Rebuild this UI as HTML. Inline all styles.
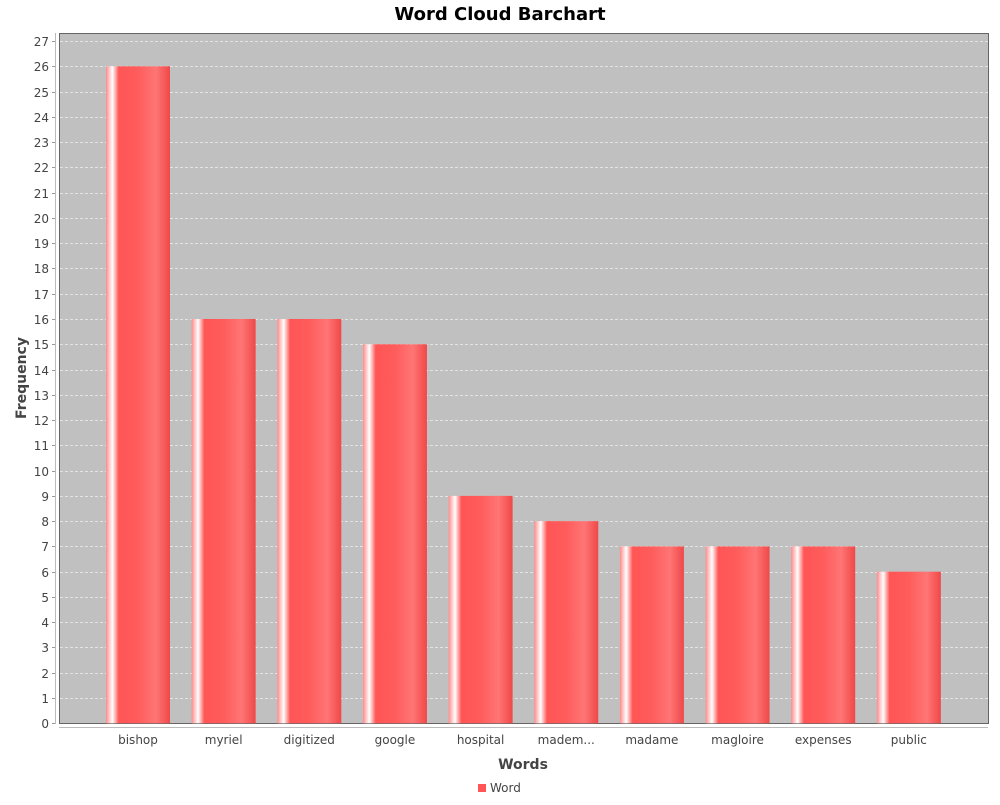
<!DOCTYPE html>
<html><head><meta charset="utf-8"><style>
body{margin:0;background:#fff;}
svg text{font-family:"DejaVu Sans","Liberation Sans",sans-serif;}
</style></head><body>
<svg id="chart" width="1000" height="800" xmlns="http://www.w3.org/2000/svg">
<defs>
<linearGradient id="barGrad" x1="0" y1="0" x2="1" y2="0">
<stop offset="0" stop-color="#ff8a8a"/>
<stop offset="0.1" stop-color="#ffffff"/>
<stop offset="0.2" stop-color="#ff5555"/>
<stop offset="0.5" stop-color="#ff5c5c"/>
<stop offset="0.78" stop-color="#ff7575"/>
<stop offset="1" stop-color="#f04848"/>
</linearGradient>
</defs>
<text x="500" y="20" text-anchor="middle" font-size="18" font-weight="bold" fill="#000">Word Cloud Barchart</text>
<rect x="59.5" y="33.5" width="929" height="690" fill="#c0c0c0" stroke="#666"/>
<g id="grid"></g>
<g id="bars"></g>
<line x1="55.5" y1="33" x2="55.5" y2="724" stroke="#bbb"/>
<line x1="59" y1="727.5" x2="988" y2="727.5" stroke="#bbb"/>
<g id="yticks"></g>
<g id="xlabels"></g>
<text x="26" y="378" text-anchor="middle" font-size="14" font-weight="bold" fill="#444" transform="rotate(-90 26 378)">Frequency</text>
<text x="523" y="769" text-anchor="middle" font-size="14" font-weight="bold" fill="#444">Words</text>
<g>
<rect x="478" y="784" width="8" height="8" fill="#ff5555"/>
<text x="490" y="792" font-size="12" fill="#444">Word</text>
</g>
</svg>
<script>
const categories=["bishop","myriel","digitized","google","hospital","madem...","madame","magloire","expenses","public"];
const values=[26,16,16,15,9,8,7,7,7,6];
const yTicks=[0,1,2,3,4,5,6,7,8,9,10,11,12,13,14,15,16,17,18,19,20,21,22,23,24,25,26,27];
const NS="http://www.w3.org/2000/svg";
const y0=723.3, unit=(723.3-66.3)/26;
function yScale(v){return y0-v*unit;}
const firstCenter=138, step=85.65, barW=64;
function xScale(i){return firstCenter+i*step;}
function mk(tag,attrs,parent){const e=document.createElementNS(NS,tag);for(const k in attrs)e.setAttribute(k,attrs[k]);parent.appendChild(e);return e;}
const grid=document.getElementById('grid'),yt=document.getElementById('yticks'),bars=document.getElementById('bars'),xl=document.getElementById('xlabels');
yTicks.forEach(t=>{
  const y=Math.round(yScale(t))+0.5;
  if(t>0){const g=mk('line',{x1:60,x2:988,y1:y,y2:y,stroke:'#eee','stroke-dasharray':'3,2','stroke-width':0.8},grid);
  
  }
  const tk=mk('line',{x1:52,x2:55,y1:y,y2:y,stroke:'#999'},yt);
  
  
  const tx=mk('text',{x:49,y:y+4.5,'text-anchor':'end','font-size':12,fill:'#444'},yt);
  tx.textContent=t;
  
  
});
categories.forEach((c,i)=>{
  const cx=xScale(i), y=yScale(values[i]);
  const r=mk('rect',{x:cx-barW/2,y:y,width:barW,height:y0-y,fill:'url(#barGrad)'},bars);
  
  
  const t=mk('text',{x:cx,y:744,'text-anchor':'middle','font-size':12,fill:'#444'},xl);
  t.textContent=c;
  
  
});
</script>
</body></html>
